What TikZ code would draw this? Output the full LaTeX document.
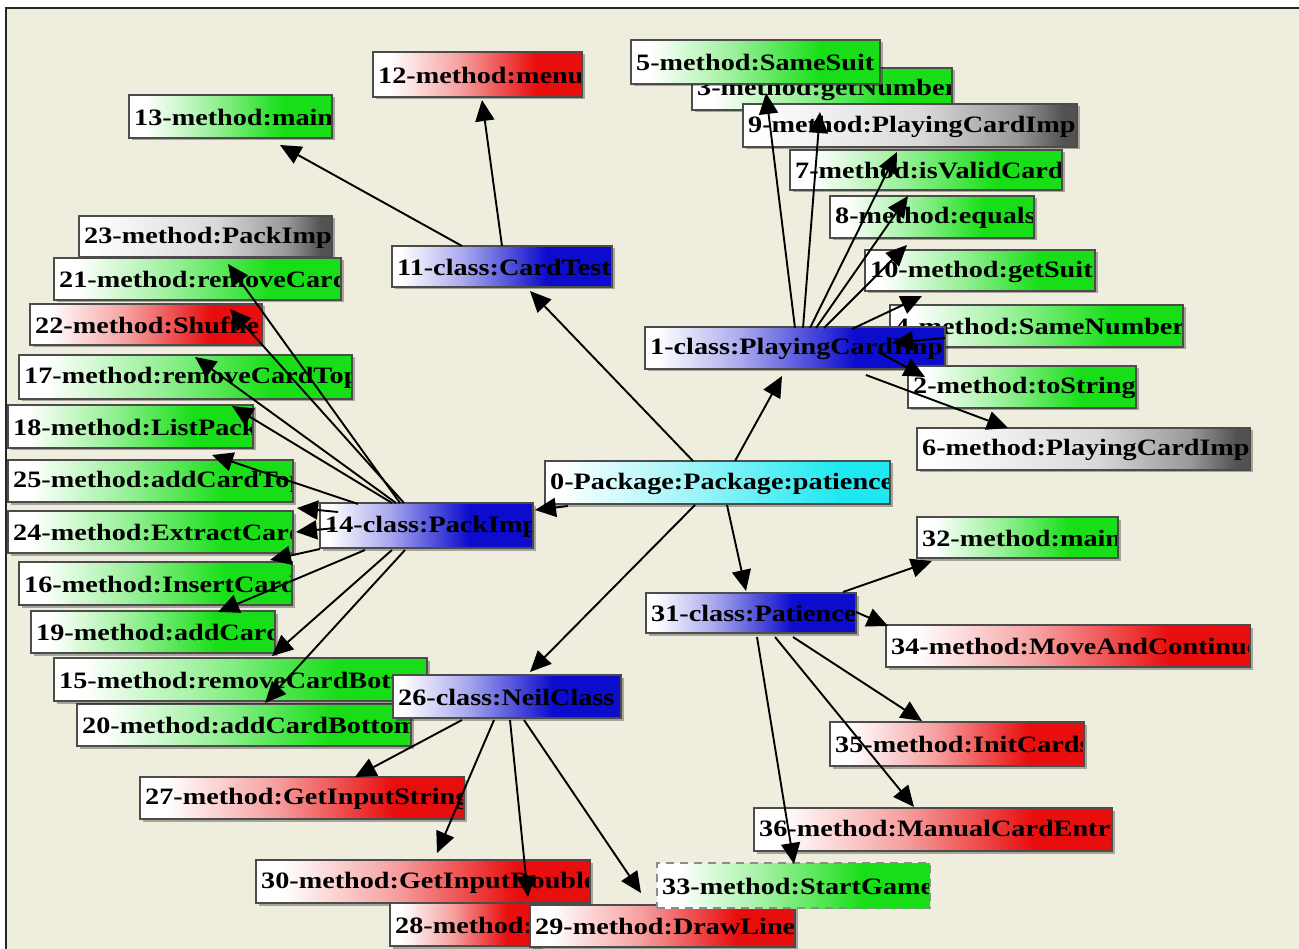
\documentclass[tikz,border=0pt]{standalone}
\usepackage{fontspec}
\newfontfamily\lblfont{Liberation Serif}[FakeStretch=1.2]
\usetikzlibrary{arrows.meta,shadows}

\definecolor{bgcol}{RGB}{239,237,222}
\definecolor{cG}{RGB}{24,222,24}
\definecolor{cR}{RGB}{232,14,14}
\definecolor{cB}{RGB}{12,12,205}
\definecolor{cC}{RGB}{30,232,240}

% horizontal fills: white on the left, full colour towards the right
\pgfdeclarehorizontalshading{shG}{100bp}{color(0bp)=(white); color(29bp)=(white); color(46bp)=(cG!45); color(63bp)=(cG); color(100bp)=(cG)}
\pgfdeclarehorizontalshading{shR}{100bp}{color(0bp)=(white); color(29bp)=(white); color(46bp)=(cR!40); color(64bp)=(cR); color(100bp)=(cR)}
\pgfdeclarehorizontalshading{shB}{100bp}{color(0bp)=(white); color(27bp)=(white); color(41bp)=(cB!35); color(60bp)=(cB); color(100bp)=(cB)}
\pgfdeclarehorizontalshading{shK}{100bp}{color(0bp)=(white); color(27bp)=(white); color(52bp)=(black!15); color(66bp)=(black!40); color(73bp)=(black!68); color(100bp)=(black!68)}
\pgfdeclarehorizontalshading{shC}{100bp}{color(0bp)=(white); color(27bp)=(white); color(45bp)=(cC!40); color(68bp)=(cC); color(100bp)=(cC)}

\tikzset{
  cbox/.style={anchor=north west, inner sep=0pt, outer sep=0pt, draw=black!70,
    line width=1.1pt, shade},
  boxshadow/.style={drop shadow={shadow xshift=2.5pt, shadow yshift=-2.5pt, fill=black, opacity=.3}},
  lbl/.style={anchor=west, inner sep=0pt, text=black,
    font=\lblfont\bfseries\fontsize{23.5}{26}\selectfont},
  conn/.style={draw=black, line width=1.9pt, -{Triangle[length=21pt,width=19pt]}},
}

% \cbox[extra style]{name}{x1}{y1}{x2}{y2}{shading}{label}
\newcommand\cbox[8][boxshadow]{%
  \pgfmathsetmacro\bw{#5-#3}\pgfmathsetmacro\bh{#6-#4}%
  \node[cbox, shading=#7, minimum width=\bw pt, minimum height=\bh pt, #1] (#2) at (#3,#4) {};
  \begin{scope}
    \clip ([shift={(1.5,1.5)}]#2.north west) rectangle ([shift={(-1.5,-1.5)}]#2.south east);
    \node[lbl] at ([xshift=5pt,yshift=-1pt]#2.west) {#8};
  \end{scope}}

% \edge{from}{dx}{dy}{to}{dx}{dy}: offsets from each box's north west corner
\newcommand\edge[6]{\draw[conn] ([shift={(#2,#3)}]#1.north west) -- ([shift={(#5,#6)}]#4.north west);}

\begin{document}
\begin{tikzpicture}[x=1pt,y=-1pt]
\useasboundingbox (0,0) rectangle (1299,949);
\fill[white] (0,0) rectangle (1299,949);
\fill[bgcol] (6,8) rectangle (1299,949);

% ---- boxes, back to front ----
\cbox{n3}{692}{68}{952}{110}{shG}{3-method:getNumber}
\cbox{n5}{631}{40}{880}{84}{shG}{5-method:SameSuit}
\cbox{n9}{743}{104}{1077}{147}{shK}{9-method:PlayingCardImp}
\cbox{n7}{790}{150}{1062}{190}{shG}{7-method:isValidCard}
\cbox{n8}{830}{196}{1034}{238}{shG}{8-method:equals}
\cbox{n10}{865}{250}{1095}{291}{shG}{10-method:getSuit}
\cbox{n4}{890}{305}{1183}{347}{shG}{4-method:SameNumber}
\cbox{n1}{645}{327}{945}{369}{shB}{1-class:PlayingCardImp}
\cbox{n2}{908}{366}{1136}{408}{shG}{2-method:toString}
\cbox{n6}{917}{428}{1250}{470}{shK}{6-method:PlayingCardImp}
\cbox{n0}{545}{461}{890}{504}{shC}{0-Package:Package:patience}
\cbox{n12}{373}{52}{582}{97}{shR}{12-method:menu}
\cbox{n13}{129}{95}{332}{138}{shG}{13-method:main}
\cbox{n11}{392}{246}{612}{287}{shB}{11-class:CardTest}
\cbox{n23}{79}{216}{332}{257}{shK}{23-method:PackImp}
\cbox{n21}{54}{258}{341}{300}{shG}{21-method:removeCard}
\cbox{n22}{30}{304}{262}{345}{shR}{22-method:Shuffle}
\cbox{n17}{19}{355}{352}{399}{shG}{17-method:removeCardTop}
\cbox{n18}{8}{405}{253}{448}{shG}{18-method:ListPack}
\cbox{n25}{8}{460}{293}{502}{shG}{25-method:addCardTop}
\cbox{n24}{8}{511}{293}{553}{shG}{24-method:ExtractCard}
\cbox{n14}{320}{503}{533}{548}{shB}{14-class:PackImp}
\cbox{n16}{19}{562}{292}{605}{shG}{16-method:InsertCard}
\cbox{n19}{31}{611}{275}{653}{shG}{19-method:addCard}
\cbox{n20}{77}{704}{411}{746}{shG}{20-method:addCardBottom}
\cbox{n15}{54}{658}{427}{701}{shG}{15-method:removeCardBottom}
\cbox{n26}{393}{675}{621}{718}{shB}{26-class:NeilClass}
\cbox{n27}{140}{777}{464}{819}{shR}{27-method:GetInputString}
\cbox{n30}{256}{860}{590}{903}{shR}{30-method:GetInputDouble}
\cbox{n28}{390}{903}{540}{946}{shR}{28-method:}
\cbox{n29}{530}{905}{795}{947}{shR}{29-method:DrawLine}
\cbox[draw=black!45, dash pattern=on 8pt off 6pt]{n33}{657}{863}{930}{908}{shG}{33-method:StartGame}
\cbox{n36}{754}{808}{1112}{851}{shR}{36-method:ManualCardEntry}
\cbox{n35}{830}{722}{1084}{766}{shR}{35-method:InitCards}
\cbox{n34}{886}{625}{1250}{667}{shR}{34-method:MoveAndContinue}
\cbox{n31}{646}{593}{856}{633}{shB}{31-class:Patience}
\cbox{n32}{917}{517}{1118}{558}{shG}{32-method:main}

% ---- package to classes ----
\edge{n0}{190}{0}{n1}{137}{49}
\edge{n0}{148}{0}{n11}{138}{45}
\edge{n0}{23}{45}{n14}{215}{7}
\edge{n0}{150}{44}{n26}{137}{-3}
\edge{n0}{182}{44}{n31}{100}{-2}

% ---- PlayingCardImp ----
\edge{n1}{150}{1}{n5}{135}{53}
\edge{n1}{158}{1}{n3}{128}{44}
\edge{n1}{165}{1}{n9}{154}{48}
\edge{n1}{171}{1}{n7}{118}{46}
\edge{n1}{179}{1}{n8}{77}{49}
\edge{n1}{207}{2}{n10}{57}{46}
\edge{n1}{300}{11}{n4}{2}{38}
\edge{n1}{233}{25}{n2}{17}{11}
\edge{n1}{221}{48}{n6}{91}{0}

% ---- CardTest ----
\edge{n11}{70}{0}{n13}{151}{50}
\edge{n11}{110}{0}{n12}{109}{48}

% ---- PackImp ----
\edge{n14}{80}{0}{n23}{149}{48}
\edge{n14}{84}{0}{n21}{176}{51}
\edge{n14}{76}{0}{n22}{165}{53}
\edge{n14}{72}{0}{n17}{213}{51}
\edge{n14}{38}{1}{n18}{204}{50}
\edge{n14}{18}{9}{n25}{289}{48}
\edge{n14}{15}{25}{n24}{288}{21}
\edge{n14}{0}{46}{n16}{251}{-2}
\edge{n14}{45}{47}{n19}{187}{1}
\edge{n14}{72}{47}{n15}{218}{-2}
\edge{n14}{85}{47}{n20}{188}{-1}

% ---- NeilClass ----
\edge{n26}{69}{45}{n27}{215}{0}
\edge{n26}{101}{45}{n30}{181}{-7}
\edge{n26}{117}{45}{n28}{138}{-6}
\edge{n26}{131}{45}{n29}{111}{-12}

% ---- Patience ----
\edge{n31}{197}{-1}{n32}{15}{44}
\edge{n31}{210}{19}{n34}{2}{1}
\edge{n31}{147}{44}{n35}{92}{-1}
\edge{n31}{129}{44}{n36}{160}{-1}
\edge{n31}{111}{44}{n33}{137}{1}

% window frame
\draw[line width=2.5pt, black!85] (6,949) -- (6,8) -- (1299,8);
\end{tikzpicture}
\end{document}
